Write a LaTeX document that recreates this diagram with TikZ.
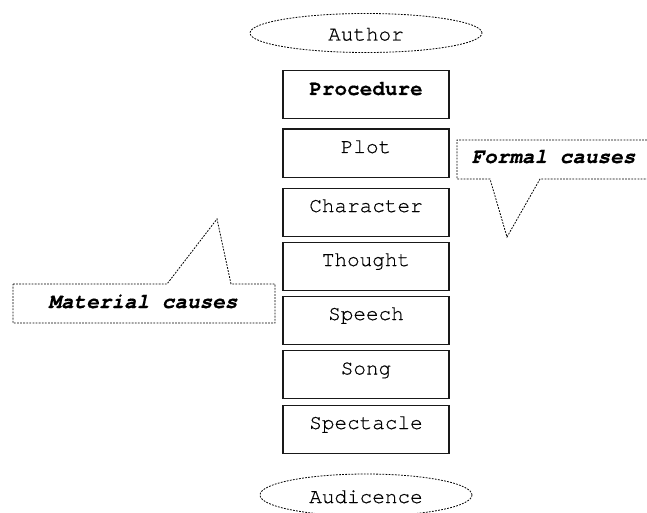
\documentclass[tikz,border=0pt]{standalone}
\usepackage{fontspec}
\setmonofont[FakeBold=0.5]{TeX Gyre Cursor}
\newfontfamily\cursorbold[FakeBold=0.4]{TeX Gyre Cursor Bold}
\newfontfamily\cursorbolditalic[FakeBold=0.4]{TeX Gyre Cursor Bold Italic}
\usetikzlibrary{shapes.geometric}
\tikzset{
  mytext/.style={font=\ttfamily\fontsize{21}{25}\selectfont, text=black, anchor=base, inner sep=0pt},
  stagebox/.style={draw=black!90, line width=1.2pt, minimum width=166pt, minimum height=48pt, inner sep=0pt, anchor=north},
  dotline/.style={draw=black, line width=0.8pt, dash pattern=on 1.8pt off 1.3pt},
  oval/.style={ellipse, dotline, inner sep=0pt},
}
\begin{document}
\begin{tikzpicture}[x=1pt,y=-1pt]
\useasboundingbox (0,0) rectangle (647,513);
\begin{scope}
\clip (0,0) rectangle (647,513);
% ellipses
\node[oval, minimum width=232pt, minimum height=39pt] (author) at (366,33) {};
\node[oval, minimum width=212pt, minimum height=42pt] (audience) at (366,495) {};
\end{scope}
\node[mytext] (authort) at (366,40.5) {Author};
\node[mytext] (audiencet) at (366,503) {Audicence};
% boxes
\node[stagebox] (b1) at (366,70) {};
\node[stagebox] (b2) at (366,128.5) {};
\node[stagebox] (b3) at (366,188) {};
\node[stagebox] (b4) at (366,241.5) {};
\node[stagebox] (b5) at (366,295.5) {};
\node[stagebox] (b6) at (366,350) {};
\node[stagebox] (b7) at (366,404.5) {};
\node[mytext, font=\cursorbold\fontsize{21}{25}\selectfont] (t1) at (366,95) {Procedure};
\node[mytext] (t2) at (366,153) {Plot};
\node[mytext] (t3) at (366,212) {Character};
\node[mytext] (t4) at (366,266) {Thought};
\node[mytext] (t5) at (366,320) {Speech};
\node[mytext] (t6) at (366,374.5) {Song};
\node[mytext] (t7) at (366,429) {Spectacle};
% formal causes callout
\draw[dotline] (647,140) -- (457,140) -- (457,179) -- (490,179) -- (507,237) -- (540,179) -- (647,179);
\node[mytext, font=\cursorbolditalic\fontsize{21}{25}\selectfont] (formal) at (553.5,163) {Formal causes};
% material causes callout
\draw[dotline] (13,284) -- (167,284) -- (217,219) -- (231,284) -- (275,284) -- (275,323) -- (13,323) -- cycle;
\node[mytext, font=\cursorbolditalic\fontsize{21}{25}\selectfont] (material) at (143,308) {Material causes};
\end{tikzpicture}
\end{document}
